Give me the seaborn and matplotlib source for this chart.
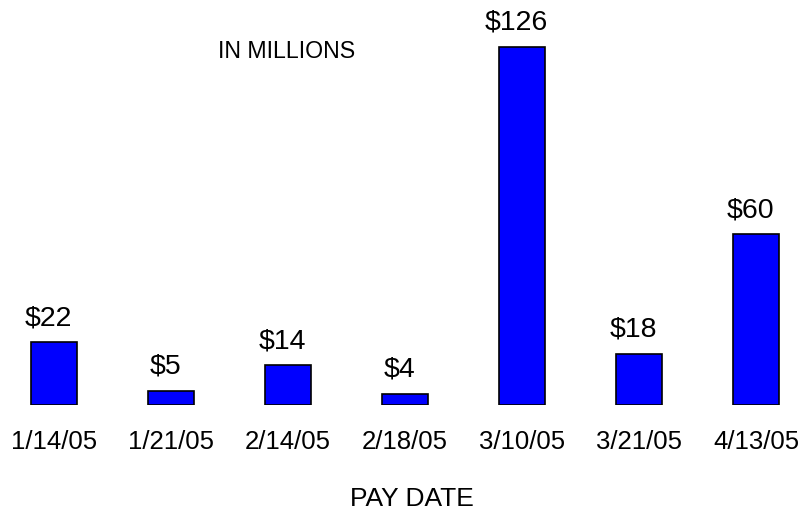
import matplotlib
matplotlib.use("Agg")
import matplotlib.pyplot as plt
import seaborn as sns
import pandas as pd

dates = ["1/14/05", "1/21/05", "2/14/05", "2/18/05", "3/10/05", "3/21/05", "4/13/05"]
amounts = [22, 5, 14, 4, 126, 18, 60]
labels = ["$22", "$5", "$14", "$4", "$126", "$18", "$60"]

sns.set_theme(style="white")
plt.rcParams['font.family'] = ['Liberation Sans', 'DejaVu Sans']
plt.rcParams['text.color'] = 'black'
plt.rcParams['xtick.color'] = 'black'
plt.rcParams['axes.labelcolor'] = 'black'

df = pd.DataFrame({"date": dates, "amount": amounts})

W, H = 811, 514
fig = plt.figure(figsize=(W / 100, H / 100), dpi=100)
ax = fig.add_axes([0, 109 / H, 1, (H - 109) / H])

sns.barplot(data=df, x="date", y="amount", order=dates, color="#0000FF",
            saturation=1, width=0.40, edgecolor="black", linewidth=1.2, ax=ax)

px_per_unit = 117
ax.set_xlim(-54 / px_per_unit, (W - 54) / px_per_unit)
ax.set_ylim(0, (H - 109) / (358.3 / 126))

for i, (v, lab) in enumerate(zip(amounts, labels)):
    ax.annotate(lab, (i, v), xytext=(-3.8, 8), textcoords="offset points",
                ha="center", va="bottom", fontsize=20.5, color="black")

ax.set_yticks([])
ax.set_ylabel("")
ax.tick_params(axis="x", length=0, pad=18, labelsize=18.5, colors="black")
ax.set_xlabel("PAY DATE", fontsize=19, color="black")
ax.xaxis.set_label_coords(411.5 / W, -0.203)
for s in ax.spines.values():
    s.set_visible(False)

fig.text(287 / W, 1 - 51 / H, "IN MILLIONS", ha="center", va="center",
         fontsize=16.7, color="black")

fig.savefig("out.png", dpi=100)
